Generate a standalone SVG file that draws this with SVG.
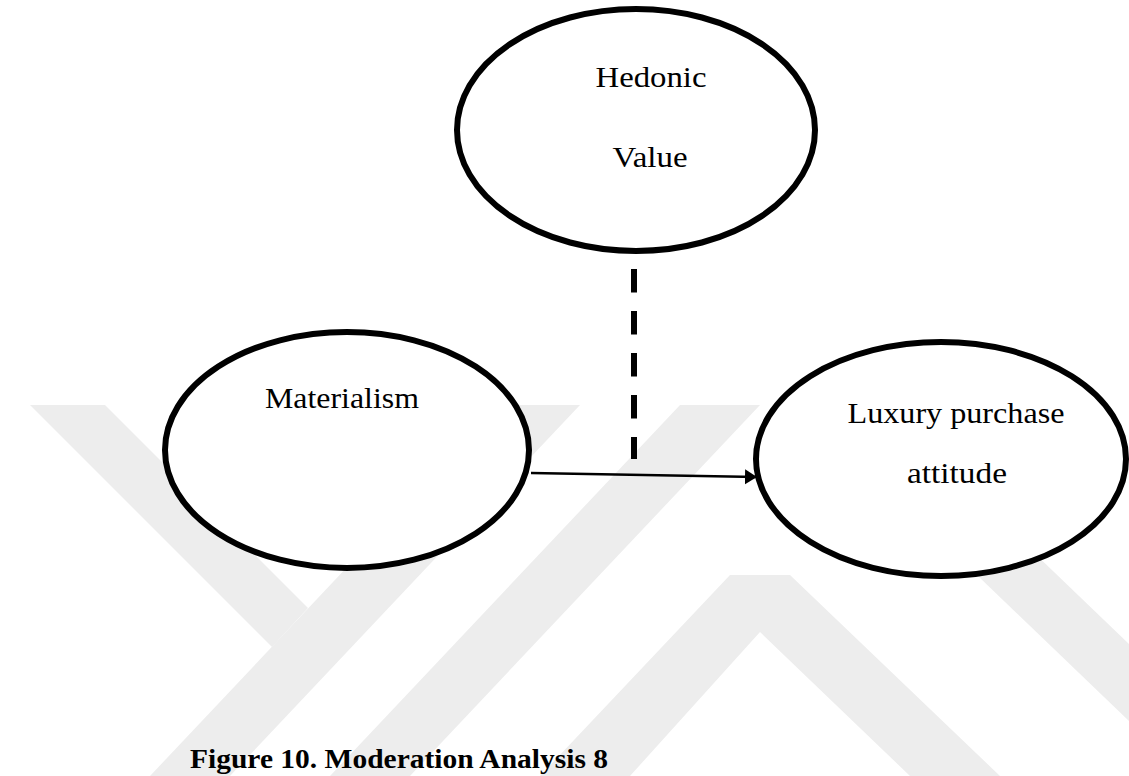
<svg xmlns="http://www.w3.org/2000/svg" width="1129" height="776" viewBox="0 0 1129 776">
  <style>
    .node { fill: #ffffff; stroke: #000000; stroke-width: 6; }
    .label { font-family: "Liberation Serif", "DejaVu Serif", serif; font-size: 29px; fill: #000000; text-anchor: middle; }
    .caption { font-family: "Liberation Serif", "DejaVu Serif", serif; font-size: 27px; font-weight: bold; fill: #000000; }
    .wm { fill: #ededed; }
  </style>
  <defs>
    <marker id="arrowhead" markerUnits="userSpaceOnUse" markerWidth="14" markerHeight="16" refX="12" refY="7.5" orient="auto">
      <path d="M0,0 L12,7.5 L0,15 Z" fill="#000000"/>
    </marker>
  </defs>

  <rect width="1129" height="776" fill="#ffffff"/>

  <!-- faint background watermark bands -->
  <g id="watermark">
    <polygon class="wm" points="30,405 105,405 308,608 272,647"/>
    <polygon class="wm" points="500,405 580,405 230,776 150,776"/>
    <polygon class="wm" points="680,405 760,405 410,776 330,776"/>
    <polygon class="wm" points="540,776 730,575 790,575 1000,776 910,776 760,632 630,776"/>
    <polygon class="wm" points="800,405 880,405 1129,644 1129,721"/>
  </g>

  <!-- connectors -->
  <g id="connectors">
    <line x1="531" y1="473" x2="757" y2="477" stroke="#000000" stroke-width="2.5" marker-end="url(#arrowhead)"/>
    <line x1="634" y1="269" x2="634" y2="459" stroke="#000000" stroke-width="6" stroke-dasharray="23.5 18.5"/>
  </g>

  <g id="hedonic-value">
    <ellipse class="node" cx="636" cy="130" rx="179" ry="121"/>
    <text class="label" x="651" y="87" textLength="111" lengthAdjust="spacingAndGlyphs">Hedonic</text>
    <text class="label" x="650" y="167" textLength="75" lengthAdjust="spacingAndGlyphs">Value</text>
  </g>

  <g id="materialism">
    <ellipse class="node" cx="347" cy="450" rx="182" ry="118"/>
    <text class="label" x="342" y="408" textLength="154" lengthAdjust="spacingAndGlyphs">Materialism</text>
  </g>

  <g id="luxury-purchase-attitude">
    <ellipse class="node" cx="941" cy="459" rx="185" ry="117"/>
    <text class="label" x="956" y="423" textLength="217" lengthAdjust="spacingAndGlyphs">Luxury purchase</text>
    <text class="label" x="957" y="483" textLength="100" lengthAdjust="spacingAndGlyphs">attitude</text>
  </g>

  <text class="caption" x="190" y="768" textLength="418" lengthAdjust="spacingAndGlyphs">Figure 10. Moderation Analysis 8</text>
</svg>
